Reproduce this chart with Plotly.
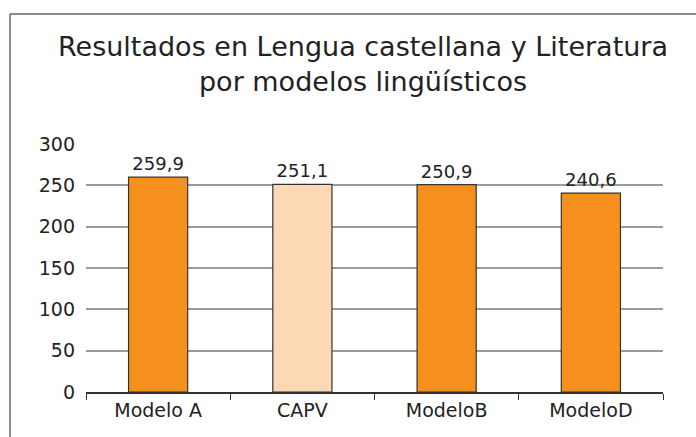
import plotly.graph_objects as go

categories = ["Modelo A", "CAPV", "ModeloB", "ModeloD"]
values = [259.9, 251.1, 250.9, 240.6]
bar_colors = ["#F5901E", "#FDD8B4", "#F5901E", "#F5901E"]
y_ticks = [0, 50, 100, 150, 200, 250, 300]

W, H = 696, 437
L, R, T, B = 86, 33, 144, 45
pw, ph = W - L - R, H - T - B
FONT = "DejaVu Sans"

fig = go.Figure(go.Bar(
    x=categories, y=values,
    marker=dict(color=bar_colors, line=dict(color="#333333", width=1.2)),
    texttemplate="%{y:.1f}", textposition="outside", cliponaxis=False,
    textfont=dict(size=18, color="#222222"),
))

fig.update_layout(
    width=W, height=H,
    margin=dict(l=L, r=R, t=T, b=B),
    paper_bgcolor="white", plot_bgcolor="white",
    separators=",.",
    font=dict(family=FONT, color="#222222"),
    bargap=0.59,
    showlegend=False,
    title=dict(
        text="Resultados en Lengua castellana y Literatura<br>por modelos lingüísticos",
        x=363 / W, xanchor="center", y=1 - 56 / H, yanchor="middle",
        font=dict(size=27, color="#222222"),
    ),
)
fig.update_yaxes(
    range=[0, 300], tickvals=y_ticks, showgrid=True, gridcolor="#9a9a9a", gridwidth=1.5,
    zeroline=False, showline=False, ticks="", tickfont=dict(size=19, color="#222222"),
    ticklabelstandoff=10,
)
fig.update_xaxes(
    showline=True, linecolor="#333333", linewidth=1.5, ticks="outside", tickson="boundaries",
    ticklen=6, tickcolor="#333333", tickfont=dict(size=19, color="#222222"),
)
# frame lines
fig.add_shape(type="line", xref="paper", yref="paper",
              x0=(10 - L) / pw, x1=(W + 10 - L) / pw, y0=1 + (T - 14) / ph, y1=1 + (T - 14) / ph,
              line=dict(color="#666666", width=1.5))
fig.add_shape(type="line", xref="paper", yref="paper",
              x0=(10 - L) / pw, x1=(10 - L) / pw, y0=1 + (T - 14) / ph, y1=-(B + 10) / ph,
              line=dict(color="#666666", width=1.5))

fig.write_html("out.html", config={"displayModeBar": False},
               post_script="document.body.style.margin='0';")
